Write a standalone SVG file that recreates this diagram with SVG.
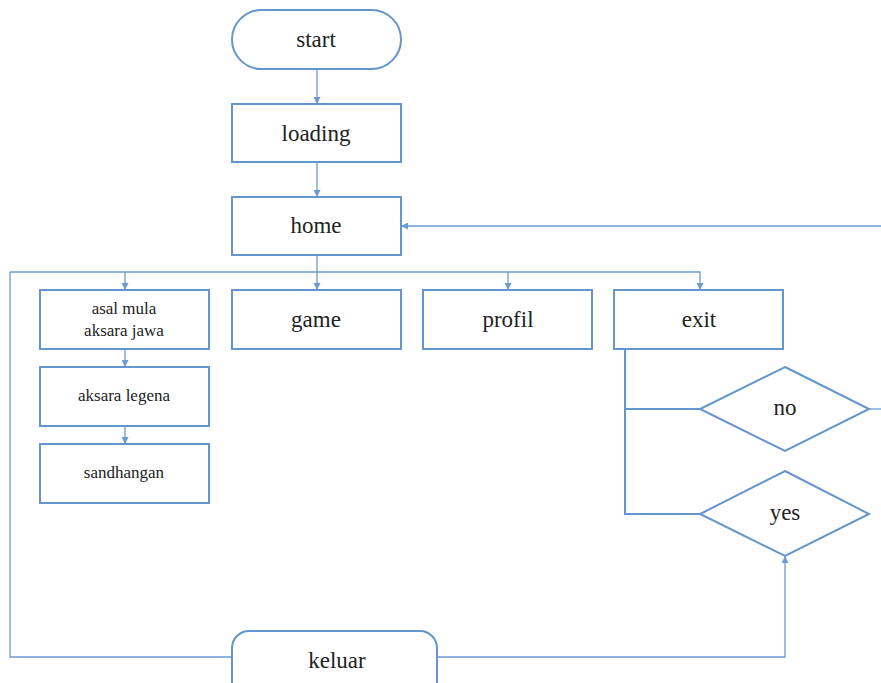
<svg xmlns="http://www.w3.org/2000/svg" width="881" height="683" viewBox="0 0 881 683">
<style>
.n{fill:#fff;stroke:#6495CD;stroke-width:2}
.c{fill:none;stroke:#6A9BD2;stroke-width:1.3}
text{font-family:"Liberation Serif","DejaVu Serif","Times New Roman",serif;fill:#222;text-anchor:middle;dominant-baseline:central}
.t{font-size:23px}
.s{font-size:17px}
</style>
<defs>
<marker id="a" viewBox="0 0 10 10" refX="10" refY="5" markerWidth="7" markerHeight="7" orient="auto" markerUnits="userSpaceOnUse">
<path d="M0,0L10,5L0,10z" fill="#6A9BD2"/>
</marker>
</defs>
<rect width="881" height="683" fill="#fff"/>
<g id="connectors">
<path class="c" d="M317,69V104" marker-end="url(#a)"/>
<path class="c" d="M317,162V197" marker-end="url(#a)"/>
<path class="c" d="M881,226H401" marker-end="url(#a)"/>
<path class="c" d="M317,255V290" marker-end="url(#a)"/>
<path class="c" d="M10,272H700V290" marker-end="url(#a)"/>
<path class="c" d="M125,272V290" marker-end="url(#a)"/>
<path class="c" d="M508,272V290" marker-end="url(#a)"/>
<path class="c" d="M125,349V367" marker-end="url(#a)"/>
<path class="c" d="M125,426V444" marker-end="url(#a)"/>
<path class="c" d="M10,272V657H232"/>
<path class="c" d="M437,657H785V556" marker-end="url(#a)"/>
<path class="c" d="M869,409H881"/>
<path class="n" style="fill:none" d="M625,349V514H700M625,409H700"/>
</g>
<g id="start"><rect class="n" x="232" y="10" width="169" height="59" rx="29.5"/><text class="t" x="316" y="39">start</text></g>
<g id="loading"><rect class="n" x="232" y="104" width="169" height="58"/><text class="t" x="316" y="133">loading</text></g>
<g id="home"><rect class="n" x="232" y="197" width="169" height="58"/><text class="t" x="316" y="225">home</text></g>
<g id="asal"><rect class="n" x="40" y="290" width="169" height="59"/><text class="s" x="124" y="308">asal mula</text><text class="s" x="124" y="330">aksara jawa</text></g>
<g id="game"><rect class="n" x="232" y="290" width="169" height="59"/><text class="t" x="316" y="319">game</text></g>
<g id="profil"><rect class="n" x="423" y="290" width="169" height="59"/><text class="t" x="508" y="319">profil</text></g>
<g id="exit"><rect class="n" x="614" y="290" width="169" height="59"/><text class="t" x="699" y="319">exit</text></g>
<g id="legena"><rect class="n" x="40" y="367" width="169" height="59"/><text class="s" x="124" y="395">aksara legena</text></g>
<g id="sandhangan"><rect class="n" x="40" y="444" width="169" height="59"/><text class="s" x="124" y="472">sandhangan</text></g>
<g id="no"><path class="n" d="M785,367L869,409L785,451L700,409z"/><text class="t" x="785" y="407">no</text></g>
<g id="yes"><path class="n" d="M785,471L869,514L785,556L700,514z"/><text class="t" x="785" y="512">yes</text></g>
<g id="keluar"><rect class="n" x="232" y="631" width="205" height="75" rx="17"/><text class="t" x="337" y="660">keluar</text></g>
</svg>
